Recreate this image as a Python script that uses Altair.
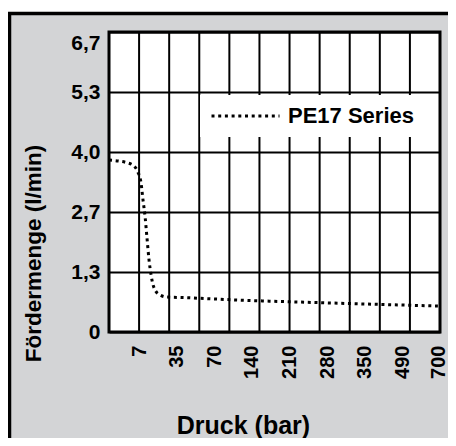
import altair as alt
import pandas as pd

# ---- data ----
# position on the (irregular) pressure grid, 0..11 grid cells, and flow in l/min
curve_pos = [0.0, 0.30, 0.60, 0.83, 0.96, 1.06, 1.13, 1.20, 1.26, 1.33, 1.40,
             1.45, 1.53, 1.69, 1.93, 2.43, 4.05, 7.28, 10.93]
curve_flow = [3.84, 3.82, 3.78, 3.71, 3.57, 3.35, 2.95, 2.57, 2.12, 1.61, 1.27,
              1.09, 0.94, 0.83, 0.78, 0.77, 0.72, 0.65, 0.58]
series_name = "PE17 Series"

x_tick_pos = [1, 2.25, 3.5, 4.75, 6, 7.25, 8.5, 9.75, 11]
x_tick_labels = ["7", "35", "70", "140", "210", "280", "350", "490", "700"]
x_grid_pos = [0, 1, 2, 3, 4, 5, 6, 7, 8, 9, 10, 11]

y_tick_pos = [0, 1.34, 2.68, 4.02, 5.36, 6.7]
y_tick_labels = ["0", "1,3", "2,7", "4,0", "5,3", "6,7"]

x_title = "Druck (bar)"
y_title = "Fördermenge (l/min)"

GRAY = "#d3d4d6"
FONT = "Liberation Sans"

curve_df = pd.DataFrame({"pos": curve_pos, "flow": curve_flow, "series": series_name})
grid_df = pd.DataFrame({"gx": x_grid_pos})
one_df = pd.DataFrame({"k": [0]})

x_scale = alt.Scale(domain=[0, 11], nice=False, zero=False)
y_scale = alt.Scale(domain=[0, 6.7], nice=False)

x_label_expr = "[{}][indexof([{}], datum.value)]".format(
    ",".join("'%s'" % s for s in x_tick_labels), ",".join(str(v) for v in x_tick_pos))
y_label_expr = "[{}][indexof([{}], datum.value)]".format(
    ",".join("'%s'" % s for s in y_tick_labels), ",".join(str(v) for v in y_tick_pos))

x_axis = alt.Axis(
    values=x_tick_pos, labelExpr=x_label_expr, grid=False, ticks=False, domain=False,
    labelAngle=270, labelAlign="right", labelBaseline="middle", labelPadding=13,
    labelOffset={"condition": {"test": "datum.value > 10", "value": -2}, "value": 0},
    labelFont=FONT, labelFontWeight="bold", labelFontSize=20, labelColor="black",
    title=x_title, titleFont=FONT, titleFontWeight="bold",
    titleFontSize=25, titleColor="black", titleX=134, titleY=101,
    titleAlign="center", titleBaseline="alphabetic", labelOverlap=False,
)
y_axis = alt.Axis(
    values=y_tick_pos, labelExpr=y_label_expr, grid=True, gridColor="black",
    gridWidth=2, gridOpacity=1, ticks=False, domain=False, labelPadding=9,
    labelFont=FONT, labelFontWeight="bold", labelFontSize=21, labelColor="black",
    labelBaseline={"condition": {"test": "datum.value > 6", "value": "top"}, "value": "middle"},
    title=y_title, titleFont=FONT, titleFontWeight="bold", titleFontSize=22.5,
    titleColor="black", titleAngle=270, titleX=-76, titleY=221,
    titleAlign="center", titleBaseline="middle", labelOverlap=False,
)

line = alt.Chart(curve_df).mark_line(
    strokeDash=[3, 3.7], strokeWidth=3, interpolate="monotone", strokeCap="butt"
).encode(
    x=alt.X("pos:Q", scale=x_scale, axis=x_axis),
    y=alt.Y("flow:Q", scale=y_scale, axis=y_axis),
    color=alt.Color("series:N", scale=alt.Scale(range=["black"]),
                    legend=alt.Legend(title=None, orient="none", legendX=91, legendY=63,
                                      fillColor="white", padding=10, symbolType="stroke",
                                      symbolSize=4624, symbolStrokeWidth=3,
                                      symbolDash=[3, 3.7], clipHeight=22, labelOffset=7,
                                      labelFont=FONT, labelFontWeight="bold",
                                      labelFontSize=22, labelColor="black")),
)

grid = alt.Chart(grid_df).mark_rule(color="black", strokeWidth=2).encode(
    x=alt.X("gx:Q", scale=x_scale, axis=x_axis)
)

# outer frame of the figure panel (top and left black edges)
white_strip = alt.Chart(one_df).mark_rule(color="white", strokeWidth=6).encode(
    x=alt.value(-110), x2=alt.value(400), y=alt.value(-23)
)
top_edge = alt.Chart(one_df).mark_rule(color="black", strokeWidth=3.5).encode(
    x=alt.value(-101), x2=alt.value(400), y=alt.value(-18.5)
)
left_edge = alt.Chart(one_df).mark_rule(color="black", strokeWidth=3.5).encode(
    x=alt.value(-99.5), y=alt.value(-20), y2=alt.value(450)
)

chart = alt.layer(white_strip, top_edge, left_edge, grid, line).properties(
    width=331, height=300,
    autosize=alt.AutoSizeParams(type="none"),
    padding={"left": 101, "top": 24, "right": 8, "bottom": 106},
    background=GRAY,
).configure_view(fill="white", stroke="black", strokeWidth=3)

chart.save("out.html", embed_options={"renderer": "svg", "actions": False})
